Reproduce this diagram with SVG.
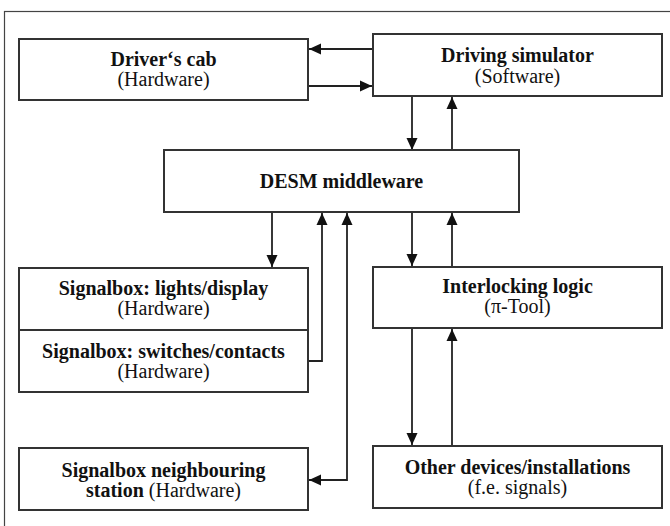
<svg xmlns="http://www.w3.org/2000/svg" width="670" height="526" viewBox="0 0 670 526">
<style>
.box{fill:#fff;stroke:#333;stroke-width:2}
.frame{fill:#fff;stroke:#444;stroke-width:1.2}
.t{font-family:"Liberation Serif","Times New Roman",serif;font-size:20px;fill:#111;text-anchor:middle}
.b{font-weight:bold}
.c{fill:none;stroke:#222;stroke-width:1.8}
</style>
<defs>
<marker id="ah" viewBox="0 0 12 12" refX="12" refY="6" markerWidth="12" markerHeight="12" markerUnits="userSpaceOnUse" orient="auto-start-reverse">
<path d="M0,0.5 L12,6 L0,11.5 z" fill="#111"/>
</marker>
</defs>
<rect class="frame" x="4.5" y="11.5" width="700" height="540"/>
<g id="connectors">
<line class="c" x1="373" y1="49" x2="309" y2="49" marker-end="url(#ah)"/>
<line class="c" x1="308" y1="86" x2="372" y2="86" marker-end="url(#ah)"/>
<line class="c" x1="412" y1="96" x2="412" y2="150" marker-end="url(#ah)"/>
<line class="c" x1="452" y1="150" x2="452" y2="97" marker-end="url(#ah)"/>
<line class="c" x1="412" y1="212" x2="412" y2="266" marker-end="url(#ah)"/>
<line class="c" x1="452" y1="267" x2="452" y2="213" marker-end="url(#ah)"/>
<line class="c" x1="412" y1="328" x2="412" y2="445" marker-end="url(#ah)"/>
<line class="c" x1="452" y1="446" x2="452" y2="329" marker-end="url(#ah)"/>
<line class="c" x1="272" y1="212" x2="272" y2="267" marker-end="url(#ah)"/>
<polyline class="c" points="308,361 322,361 322,213" marker-end="url(#ah)"/>
<polyline class="c" points="347,213 347,480 309,480" marker-start="url(#ah)" marker-end="url(#ah)"/>
</g>
<g id="drivers-cab">
<rect class="box" x="19" y="39" width="289" height="61"/>
<text class="t b" x="163.5" y="66">Driver‘s cab</text>
<text class="t" x="163.5" y="86">(Hardware)</text>
</g>
<g id="driving-simulator">
<rect class="box" x="373" y="34" width="289" height="62"/>
<text class="t b" x="517.5" y="62">Driving simulator</text>
<text class="t" x="517.5" y="83">(Software)</text>
</g>
<g id="desm">
<rect class="box" x="164" y="150" width="355" height="62"/>
<text class="t b" x="341.5" y="188">DESM middleware</text>
</g>
<g id="signalbox-lights">
<rect class="box" x="19" y="268" width="289" height="62"/>
<text class="t b" x="163.5" y="295">Signalbox: lights/display</text>
<text class="t" x="163.5" y="315">(Hardware)</text>
</g>
<g id="signalbox-switches">
<rect class="box" x="19" y="330" width="289" height="62"/>
<text class="t b" x="163.5" y="358">Signalbox: switches/contacts</text>
<text class="t" x="163.5" y="378">(Hardware)</text>
</g>
<g id="interlocking">
<rect class="box" x="373" y="267" width="289" height="61"/>
<text class="t b" x="517.5" y="293">Interlocking logic</text>
<text class="t" x="517.5" y="313">(π-Tool)</text>
</g>
<g id="neighbour">
<rect class="box" x="19" y="448" width="289" height="62"/>
<text class="t b" x="163.5" y="477">Signalbox neighbouring</text>
<text class="t" x="163.5" y="497"><tspan class="b">station</tspan> (Hardware)</text>
</g>
<g id="other-devices">
<rect class="box" x="373" y="446" width="289" height="62"/>
<text class="t b" x="517.5" y="474">Other devices/installations</text>
<text class="t" x="517.5" y="494">(f.e. signals)</text>
</g>
</svg>
